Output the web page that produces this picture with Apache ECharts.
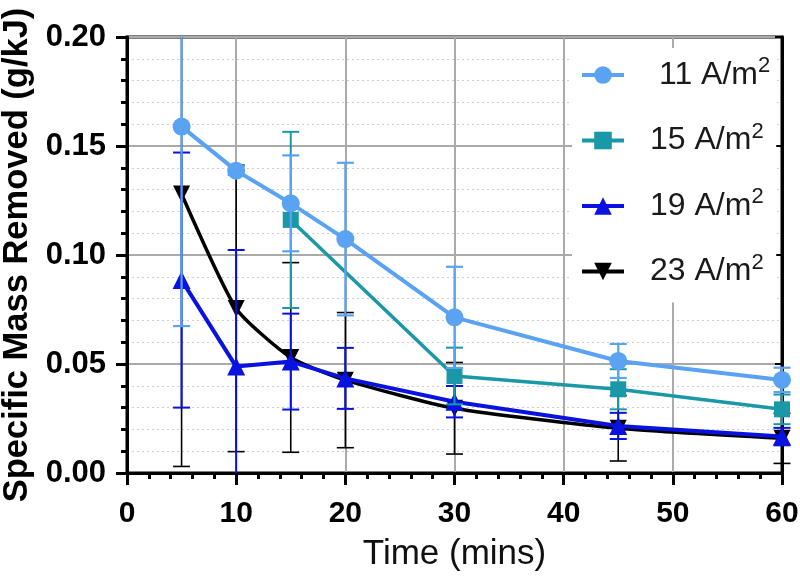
<!DOCTYPE html>
<html>
<head>
<meta charset="utf-8">
<script src="https://cdn.jsdelivr.net/npm/echarts@6/dist/echarts.min.js"></script>
<style>
html,body{margin:0;padding:0;background:#fff;}
#chart{width:800px;height:581px;}
</style>
</head>
<body>
<div id="chart"></div>
<script>
// ---- Data ----
const times = [5, 10, 15, 20, 30, 45, 60];
const times15 = [15, 30, 45, 60];

const mean11 = [0.1589, 0.1387, 0.1237, 0.1073, 0.0714, 0.0514, 0.0427];
const err11  = [0.0915, 0.0020, 0.0220, 0.0350, 0.0232, 0.0078, 0.0056];

const mean15 = [0.1161, 0.0445, 0.0384, 0.0292];
const err15  = [0.0404, 0.0130, 0.0092, 0.0068];

const mean19 = [0.0885, 0.0488, 0.0511, 0.0434, 0.0327, 0.0216, 0.0167];
const err19  = [0.0585, 0.0535, 0.0220, 0.0140, 0.0072, 0.0060, 0.0040];

const mean23 = [0.1280, 0.0755, 0.0530, 0.0426, 0.0297, 0.0205, 0.0159];
const err23  = [0.1250, 0.0657, 0.0435, 0.0310, 0.0210, 0.0150, 0.0115];

const seriesNames = ['11 A/m2', '15 A/m2', '19 A/m2', '23 A/m2'];
const xTicks = [0, 10, 20, 30, 40, 50, 60];
const yTicks = [0.00, 0.05, 0.10, 0.15, 0.20];

const X_MIN = 0, X_MAX = 60, Y_MIN = 0, Y_MAX = 0.2;
const FONT = "'Liberation Sans', Arial, Helvetica, sans-serif";

const C11 = '#5aa2f2', C15 = '#1b98a8', C19 = '#0a12e0', C23 = '#000000';

function pts(xs, ys) { return xs.map((x, i) => [x, ys[i]]); }
function errData(xs, ms, es) { return xs.map((x, i) => [x, ms[i] - es[i], ms[i] + es[i]]); }

function errRender(color, lw) {
  return function (params, api) {
    const x = api.value(0), lo = api.value(1), hi = api.value(2);
    const loC = Math.max(lo, Y_MIN), hiC = Math.min(hi, Y_MAX);
    const p1 = api.coord([x, hiC]);
    const p2 = api.coord([x, loC]);
    const half = 8.5;
    const style = { stroke: color, lineWidth: lw, fill: null };
    const children = [{ type: 'line', shape: { x1: p1[0], y1: p1[1], x2: p2[0], y2: p2[1] }, style: style }];
    if (hi <= Y_MAX) children.push({ type: 'line', shape: { x1: p1[0] - half, y1: p1[1], x2: p1[0] + half, y2: p1[1] }, style: style });
    if (lo >= Y_MIN) children.push({ type: 'line', shape: { x1: p2[0] - half, y1: p2[1], x2: p2[0] + half, y2: p2[1] }, style: style });
    return { type: 'group', children: children };
  };
}

const chart = echarts.init(document.getElementById('chart'), null, { renderer: 'canvas' });

const option = {
  animation: false,
  backgroundColor: '#ffffff',
  textStyle: { fontFamily: FONT },
  grid: {
    left: 127, right: 18, top: 37, bottom: 108, containLabel: false,
    outerBoundsMode: 'none',
    show: true, borderColor: '#000', borderWidth: 3, backgroundColor: 'transparent'
  },
  legend: {
    data: seriesNames,
    orient: 'vertical',
    left: 572,
    top: 48,
    padding: [7, 6, 15, 8],
    backgroundColor: '#ffffff',
    itemWidth: 42,
    itemHeight: 22,
    itemGap: 29.5,
    z: 10,
    lineStyle: { width: 4 },
    formatter: function (name) {
      const base = name.replace(/2$/, '');
      const st = name.indexOf('11') === 0 ? 'a1' : 'a';
      return '{' + st + '|' + base + '}{s|2}';
    },
    textStyle: {
      color: '#1a1a1a',
      rich: {
        a: { fontSize: 32, lineHeight: 40, fontFamily: FONT, color: '#1a1a1a', padding: [0, 0, 0, 21] },
        a1: { fontSize: 32, lineHeight: 40, fontFamily: FONT, color: '#1a1a1a', padding: [0, 0, 0, 30] },
        s: { fontSize: 22, lineHeight: 22, fontFamily: FONT, color: '#1a1a1a', verticalAlign: 'top' }
      }
    }
  },
  xAxis: [{
    type: 'value', min: X_MIN, max: X_MAX, interval: 10,
    name: 'Time (mins)', nameLocation: 'middle', nameGap: 64, nameMoveOverlap: false,
    nameTextStyle: { fontSize: 35, color: '#111', fontFamily: FONT },
    axisLine: { show: true, onZero: false, lineStyle: { color: '#000', width: 3 } },
    axisTick: { show: true, inside: false, length: 12, lineStyle: { color: '#000', width: 3 } },
    minorTick: { show: true, splitNumber: 5, length: 6, lineStyle: { color: '#000', width: 3 } },
    axisLabel: {
      fontSize: 30, fontWeight: 'bold', color: '#000', margin: 26, fontFamily: FONT,
      customValues: xTicks
    },
    splitLine: { show: true, lineStyle: { color: '#aaaaaa', width: 2 } },
    minorSplitLine: { show: false }
  }],
  yAxis: [{
    type: 'value', min: Y_MIN, max: Y_MAX, interval: 0.05,
    name: 'Specific Mass Removed (g/kJ)', nameLocation: 'middle', nameGap: 92, nameRotate: 90,
    nameMoveOverlap: false,
    nameTextStyle: { fontSize: 34.5, fontWeight: 'bold', color: '#000', fontFamily: FONT },
    axisLine: { show: true, onZero: false, lineStyle: { color: '#000', width: 3 } },
    axisTick: { show: true, inside: false, length: 11, lineStyle: { color: '#000', width: 3 } },
    minorTick: { show: true, splitNumber: 5, length: 6, lineStyle: { color: '#000', width: 3 } },
    axisLabel: {
      fontSize: 31, fontWeight: 'bold', color: '#000', margin: 21, fontFamily: FONT,
      formatter: function (v) { return v.toFixed(2); }
    },
    splitLine: { show: true, lineStyle: { color: '#aaaaaa', width: 2 } },
    minorSplitLine: { show: true, lineStyle: { color: '#cfcfcf', width: 1, type: [2, 3] } }
  }, {
    type: 'value', min: Y_MIN, max: Y_MAX, interval: 0.05, position: 'right',
    axisLine: { show: true, onZero: false, lineStyle: { color: '#000', width: 3 } },
    axisTick: { show: true, inside: true, length: 7, lineStyle: { color: '#000', width: 2 } },
    axisLabel: { show: false }, splitLine: { show: false }
  }],
  series: [
    {
      type: 'custom', name: 'err23', xAxisIndex: 0, yAxisIndex: 0, z: 3,
      renderItem: errRender(C23, 1.6), encode: { x: 0, y: [1, 2] },
      data: errData(times, mean23, err23), silent: true
    },
    {
      type: 'line', name: seriesNames[3], z: 4,
      data: pts(times, mean23), smooth: 0.2,
      symbol: 'triangle', symbolRotate: 180, symbolSize: 17,
      lineStyle: { color: C23, width: 3.5 }, itemStyle: { color: C23 }
    },
    {
      type: 'custom', name: 'err19', z: 5,
      renderItem: errRender(C19, 2), encode: { x: 0, y: [1, 2] },
      data: errData(times, mean19, err19), silent: true
    },
    {
      type: 'line', name: seriesNames[2], z: 6,
      data: pts(times, mean19),
      symbol: 'triangle', symbolSize: 18,
      lineStyle: { color: C19, width: 4 }, itemStyle: { color: C19 }
    },
    {
      type: 'custom', name: 'err15', z: 7,
      renderItem: errRender(C15, 2), encode: { x: 0, y: [1, 2] },
      data: errData(times15, mean15, err15), silent: true
    },
    {
      type: 'line', name: seriesNames[1], z: 8,
      data: pts(times15, mean15),
      symbol: 'rect', symbolSize: 16,
      lineStyle: { color: C15, width: 3.5 }, itemStyle: { color: C15 }
    },
    {
      type: 'custom', name: 'err11', z: 9,
      renderItem: errRender(C11, 2.2), encode: { x: 0, y: [1, 2] },
      data: errData(times, mean11, err11), silent: true
    },
    {
      type: 'line', name: seriesNames[0], z: 10,
      data: pts(times, mean11),
      symbol: 'circle', symbolSize: 18,
      lineStyle: { color: C11, width: 4 }, itemStyle: { color: C11 }
    }
  ]
};

chart.setOption(option);
</script>
</body>
</html>
